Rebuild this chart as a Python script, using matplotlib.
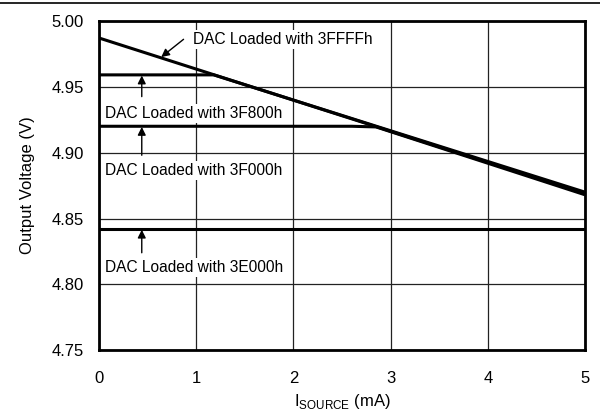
import matplotlib
matplotlib.use("Agg")
import matplotlib.pyplot as plt
from matplotlib.lines import Line2D

plt.rcParams['font.family'] = ['Liberation Sans', 'DejaVu Sans']

# Data
x_3ffff = [0.0, 5.0]
y_3ffff = [4.987, 4.869]
x_3f800 = [0.0, 1.18, 5.0]
y_3f800 = [4.959, 4.959, 4.870]
x_3f000 = [0.0, 2.6, 2.85, 5.0]
y_3f000 = [4.920, 4.920, 4.9195, 4.868]
x_3e000 = [0.0, 5.0]
y_3e000 = [4.842, 4.842]

xticks = [0, 1, 2, 3, 4, 5]
yticks = [4.75, 4.80, 4.85, 4.90, 4.95, 5.00]

labels = ["DAC Loaded with 3FFFFh", "DAC Loaded with 3F800h",
          "DAC Loaded with 3F000h", "DAC Loaded with 3E000h"]
label_xy = [(0.97, 4.986), (0.06, 4.930), (0.06, 4.8865), (0.06, 4.813)]
arrow_tip = [(0.64, 4.9725), (0.44, 4.9585), (0.44, 4.9195), (0.44, 4.8415)]
arrow_tail = [(0.87, 4.986), (0.44, 4.9425), (0.44, 4.898), (0.44, 4.824)]

fig = plt.figure(figsize=(6.0, 4.17), dpi=100)
ax = fig.add_axes([0.165, 0.16, 0.81, 0.79])

ax.set_xlim(0, 5)
ax.set_ylim(4.75, 5.00)
ax.set_xticks(xticks)
ax.set_yticks(yticks)
ax.set_yticklabels([f"{v:.2f}" for v in yticks])
ax.tick_params(length=0, labelsize=12)
ax.tick_params(axis='x', pad=15)
ax.tick_params(axis='y', pad=11)
ax.grid(True, color='#222222', linewidth=0.9)
ax.set_axisbelow(True)
for s in ax.spines.values():
    s.set_linewidth(2.0)

for xs, ys in [(x_3ffff, y_3ffff), (x_3f800, y_3f800), (x_3f000, y_3f000), (x_3e000, y_3e000)]:
    ax.plot(xs, ys, color='black', linewidth=2.2, solid_capstyle='butt')

for lab, xy, tip, tail in zip(labels, label_xy, arrow_tip, arrow_tail):
    ax.annotate('', xy=tip, xytext=tail,
                arrowprops=dict(arrowstyle='-|>', color='black', lw=1.0,
                                mutation_scale=12, shrinkA=0, shrinkB=0))
    ax.text(xy[0], xy[1], lab, fontsize=11.2, ha='left', va='center',
            bbox=dict(facecolor='white', edgecolor='none', pad=1.5))

ax.set_xlabel(r'I$_{\mathregular{SOURCE}}$ (mA)', fontsize=12, labelpad=4)
ax.set_ylabel('Output Voltage (V)', fontsize=12, labelpad=12)

fig.add_artist(Line2D([0, 1], [0.993, 0.993], transform=fig.transFigure,
                      color='black', linewidth=1.2))

fig.savefig('out.png', dpi=100)
